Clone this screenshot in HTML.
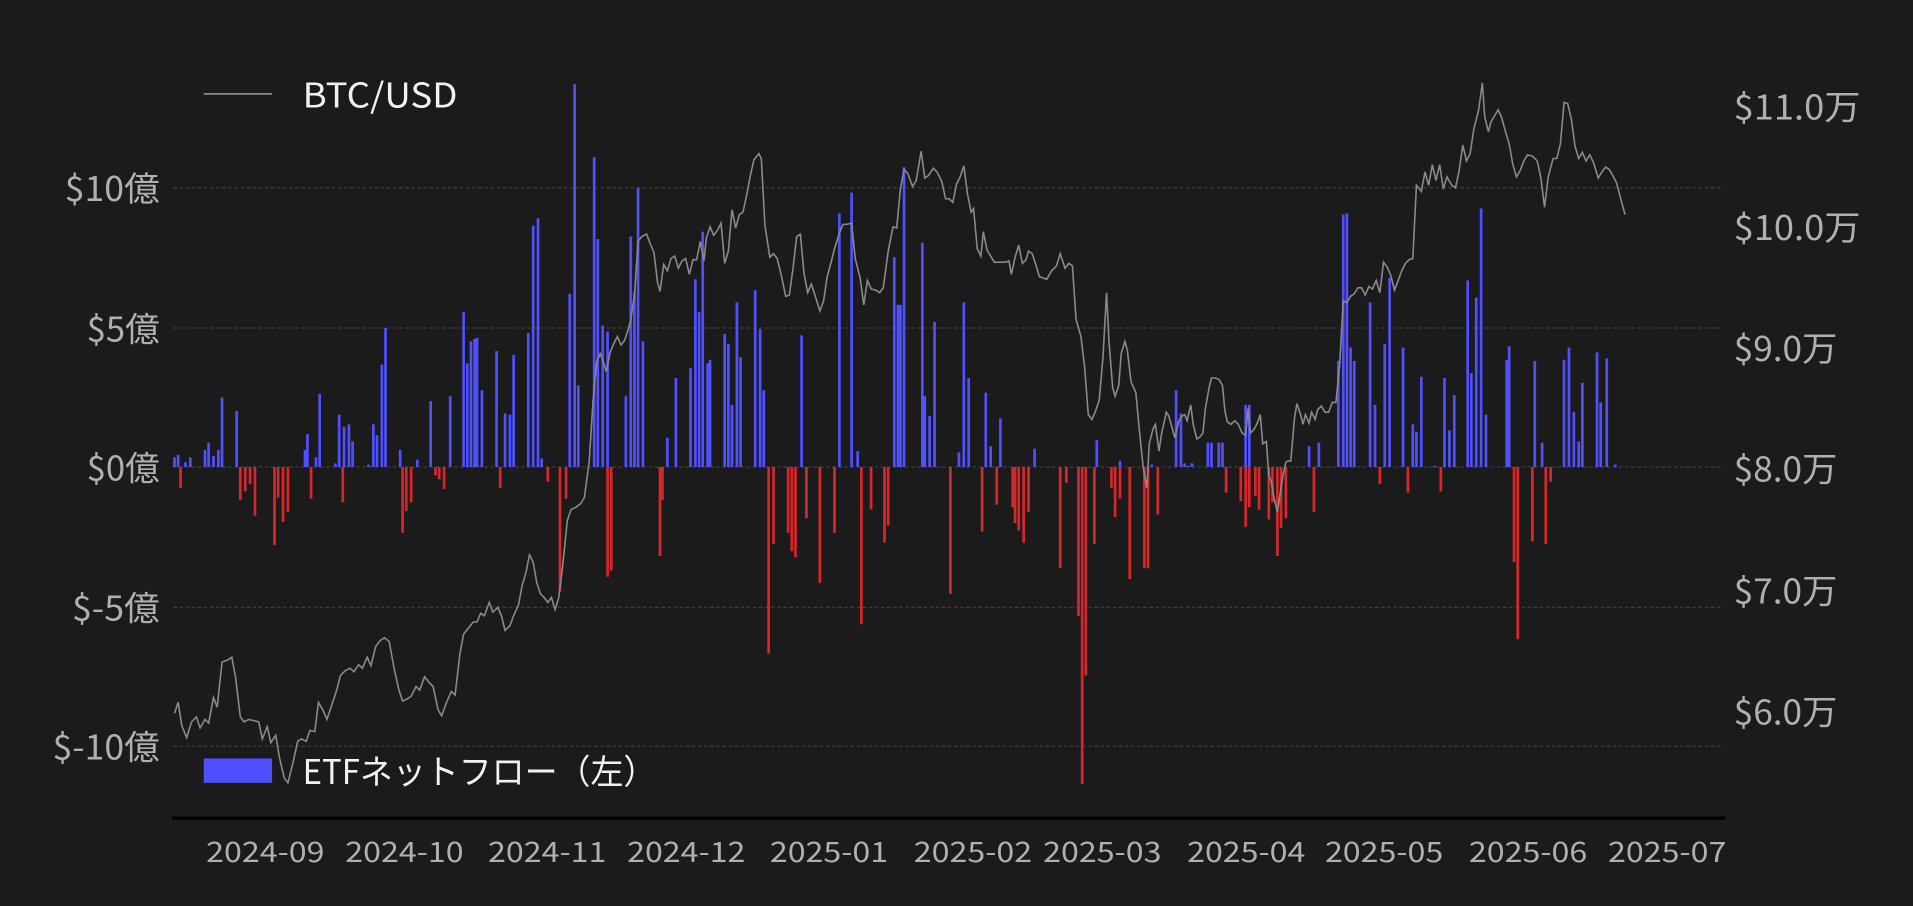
<!DOCTYPE html>
<html><head><meta charset="utf-8">
<style>
html,body{margin:0;padding:0;background:#1b1b1b;width:1913px;height:906px;overflow:hidden}
svg{display:block}
text{font-family:"Noto Sans CJK JP","Liberation Sans",sans-serif}
</style></head>
<body>
<svg id="s" width="1913" height="906" viewBox="0 0 1568 743" preserveAspectRatio="none" xmlns="http://www.w3.org/2000/svg">
<rect width="1568" height="743" fill="#1b1b1b"/>
<g stroke="#464646" stroke-width="0.8" stroke-dasharray="3,2">
<line x1="142" x2="1413" y1="154" y2="154"/>
<line x1="142" x2="1413" y1="269" y2="269"/>
<line x1="142" x2="1413" y1="383" y2="383"/>
<line x1="142" x2="1413" y1="498" y2="498"/>
<line x1="142" x2="1413" y1="612" y2="612"/>
</g>
<g id="bars"></g>
<polyline id="btc" fill="none" stroke="#8a8a8a" stroke-width="1.3" points=""/>
<line x1="141" x2="1414" y1="671" y2="671" stroke="#000" stroke-width="2.5"/>
<g fill="#b0b0b0" font-size="28" lengthAdjust="spacingAndGlyphs">
<text x="53" y="165" textLength="78" lengthAdjust="spacingAndGlyphs">$10億</text>
<text x="71" y="280" textLength="60" lengthAdjust="spacingAndGlyphs">$5億</text>
<text x="71" y="394" textLength="60" lengthAdjust="spacingAndGlyphs">$0億</text>
<text x="59" y="509" textLength="72" lengthAdjust="spacingAndGlyphs">$-5億</text>
<text x="43" y="623" textLength="88" lengthAdjust="spacingAndGlyphs">$-10億</text>
</g>
<g fill="#b0b0b0" font-size="28">
<text x="1421" y="98" textLength="104" lengthAdjust="spacingAndGlyphs">$11.0万</text>
<text x="1421" y="197" textLength="104" lengthAdjust="spacingAndGlyphs">$10.0万</text>
<text x="1421" y="296" textLength="85" lengthAdjust="spacingAndGlyphs">$9.0万</text>
<text x="1421" y="395" textLength="85" lengthAdjust="spacingAndGlyphs">$8.0万</text>
<text x="1421" y="495" textLength="85" lengthAdjust="spacingAndGlyphs">$7.0万</text>
<text x="1421" y="594" textLength="85" lengthAdjust="spacingAndGlyphs">$6.0万</text>
</g>
<g fill="#b0b0b0" font-size="23">
<text x="169" y="707" textLength="97" lengthAdjust="spacingAndGlyphs">2024-09</text>
<text x="283" y="707" textLength="97" lengthAdjust="spacingAndGlyphs">2024-10</text>
<text x="400" y="707" textLength="97" lengthAdjust="spacingAndGlyphs">2024-11</text>
<text x="514" y="707" textLength="97" lengthAdjust="spacingAndGlyphs">2024-12</text>
<text x="631" y="707" textLength="97" lengthAdjust="spacingAndGlyphs">2025-01</text>
<text x="749" y="707" textLength="97" lengthAdjust="spacingAndGlyphs">2025-02</text>
<text x="855" y="707" textLength="97" lengthAdjust="spacingAndGlyphs">2025-03</text>
<text x="973" y="707" textLength="97" lengthAdjust="spacingAndGlyphs">2025-04</text>
<text x="1086" y="707" textLength="97" lengthAdjust="spacingAndGlyphs">2025-05</text>
<text x="1204" y="707" textLength="97" lengthAdjust="spacingAndGlyphs">2025-06</text>
<text x="1318" y="707" textLength="97" lengthAdjust="spacingAndGlyphs">2025-07</text>
</g>
<line x1="167" x2="223" y1="77" y2="77" stroke="#8a8a8a" stroke-width="1.5"/>
<text x="248" y="88" fill="#f2f2f2" font-size="28" textLength="127" lengthAdjust="spacingAndGlyphs">BTC/USD</text>
<rect x="167" y="622" width="56" height="20" fill="#4f4fff"/>
<text x="248" y="643" fill="#f2f2f2" font-size="28" textLength="290" lengthAdjust="spacingAndGlyphs">ETFネットフロー（左）</text>
</svg>
<script>
var pts="143,585 146,576 149,595 153,605 157,592 161,588 164,597 168,590 171,593 175,572 178,580 182,543 187,541 190,539 193,555 197,588 200,592 204,590 208,591 212,592 215,606 219,596 222,609 226,603 229,621 233,638 236,642 240,626 244,608 247,606 251,608 254,599 258,600 261,576 265,583 268,590 272,578 276,566 279,554 283,550 287,548 290,551 294,545 297,548 301,539 304,546 308,530 312,525 315,523 319,526 323,548 327,566 330,575 334,573 337,571 341,563 344,566 348,555 352,560 355,563 359,582 362,587 366,576 370,567 373,570 377,536 380,520 384,515 388,510 391,510 394,503 397,505 401,494 404,502 408,498 411,505 414,517 418,513 421,505 425,496 428,480 431,470 434,455 437,461 440,478 443,487 446,490 449,494 452,490 455,500 458,490 461,466 465,427 468,418 472,416 476,413 479,408 483,378 486,330 489,297 492,290 495,298 497,305 500,289 503,282 506,276 509,283 512,279 515,270 517,262 520,243 523,198 526,194 530,192 533,200 536,207 539,232 541,239 544,217 547,222 550,212 553,210 556,220 559,214 562,212 565,225 568,213 571,213 574,198 577,214 579,195 582,186 585,193 588,189 591,183 594,216 597,206 600,172 603,187 606,176 609,174 612,160 615,144 618,131 622,126 624,130 627,185 631,211 634,208 637,212 640,224 644,243 647,242 650,220 653,194 656,192 659,224 662,240 665,233 668,242 672,255 675,247 678,227 681,216 684,204 688,191 691,184 694,184 698,183 701,212 705,228 708,250 711,230 714,237 718,238 721,240 724,236 728,206 732,186 735,187 738,155 741,139 744,142 748,153 751,148 755,124 758,146 761,144 765,138 768,141 772,149 775,163 778,163 781,166 784,151 787,145 790,136 793,159 796,174 798,171 801,204 804,210 806,190 809,205 812,210 815,215 819,215 824,215 827,214 829,225 832,211 835,201 838,216 841,213 843,206 846,208 849,217 852,227 855,228 858,229 862,222 866,218 869,208 873,220 876,216 879,218 882,262 886,276 889,301 892,340 895,344 898,337 901,328 904,294 907,240 909,280 912,318 914,325 917,316 919,290 922,280 924,287 927,313 931,322 934,354 937,383 940,400 942,364 945,352 947,348 950,370 952,356 956,338 958,341 961,352 963,359 966,346 968,342 971,340 973,345 976,332 978,348 981,360 984,358 986,355 988,335 991,318 993,310 996,310 999,311 1002,316 1004,337 1006,346 1009,348 1012,345 1015,348 1018,355 1021,357 1023,335 1025,355 1028,352 1031,346 1033,340 1035,364 1038,362 1040,390 1042,395 1044,407 1047,420 1050,400 1052,388 1054,379 1056,378 1058,378 1061,343 1063,331 1066,340 1068,348 1070,340 1073,347 1075,338 1078,344 1080,336 1083,333 1086,338 1089,338 1092,330 1095,330 1098,300 1101,247 1104,248 1107,243 1110,241 1113,236 1116,236 1119,242 1122,235 1125,237 1128,230 1131,240 1134,215 1137,219 1140,226 1143,238 1146,230 1149,222 1152,216 1155,213 1158,212 1161,152 1165,157 1168,141 1171,152 1174,135 1177,148 1180,135 1183,155 1186,145 1190,152 1193,154 1196,140 1199,119 1202,132 1205,126 1208,106 1212,90 1215,68 1217,96 1220,108 1222,100 1225,95 1228,90 1231,97 1234,108 1237,118 1240,135 1243,145 1246,140 1249,132 1252,127 1256,128 1260,132 1263,146 1266,170 1269,145 1273,130 1276,130 1279,118 1282,84 1285,85 1288,98 1291,120 1294,130 1297,125 1300,132 1303,127 1306,133 1310,146 1313,141 1316,137 1319,139 1322,144 1325,150 1329,165 1332,176";
document.getElementById('btc').setAttribute('points',pts);
var pos="143,375;146,373;152,379;156,375;168,369;171,363;175,374;179,369;182,326;194,337;250,369;252,356;259,375;262,323;275,380;278,340;282,350;286,348;289,362;302,381;306,348;309,357;313,299;316,269;328,369;342,377;353,329;369,325;380,256;383,298;386,280;389,278;391,277;395,320;407,288;414,339;418,340;421,291;433,273;437,185;441,179;444,376;467,241;471,69;474,316;487,129;490,196;494,267;498,272;513,325;517,194;520,240;523,154;527,280;547,359;554,310;566,302;570,229;573,256;576,190;580,298;582,295;594,274;597,282;600,332;604,248;607,293;619,238;623,270;626,320;657,275;675,383;680,383;688,175;698,158;703,370;733,211;736,250;738,250;741,137;756,199;758,325;762,341;766,264;786,371;790,248;794,310;808,322;812,366;820,343;848,368;899,361;918,378;944,381;964,320;968,339;971,380;974,382;977,380;990,363;993,363;999,363;1002,363;1021,332;1024,332;1073,366;1081,363;1097,296;1101,176;1104,175;1107,285;1110,296;1123,248;1127,332;1135,282;1139,228;1150,285;1158,348;1161,354;1165,309;1176,382;1184,310;1188,353;1192,324;1203,230;1206,306;1210,244;1214,171;1218,340;1235,295;1237,284;1258,296;1264,363;1282,295;1286,285;1290,338;1294,362;1297,314;1309,289;1312,330;1317,294;1324,381";
var neg="148,400;197,410;201,403;205,397;209,423;225,447;228,408;232,428;236,420;255,409;281,412;330,437;333,419;337,412;357,390;360,393;364,401;410,400;449,395;459,485;464,409;498,473;501,468;541,456;543,410;630,536;634,446;646,437;649,452;652,457;661,425;672,478;684,437;706,512;714,418;725,445;728,431;779,487;805,436;817,414;830,416;832,429;835,435;839,445;843,420;869,466;874,396;884,505;887,643;890,554;897,446;911,400;914,424;918,409;926,475;938,466;941,466;949,422;1005,404;1017,411;1021,432;1024,416;1029,407;1032,418;1040,426;1043,412;1047,456;1050,433;1054,425;1077,420;1131,397;1154,404;1181,403;1241,461;1244,524;1256,444;1267,446;1271,395";
var g=document.getElementById('bars'),h='';
pos.split(';').forEach(function(p){var a=p.split(',');var x=+a[0],y=+a[1];h+='<rect x="'+(x-1.1)+'" y="'+y+'" width="2.2" height="'+(383-y)+'" fill="#5050ff"/>';});
neg.split(';').forEach(function(p){var a=p.split(',');var x=+a[0],y=+a[1];h+='<rect x="'+(x-1.1)+'" y="383" width="2.2" height="'+(y-383)+'" fill="#d8262b"/>';});
g.innerHTML=h;
</script>
</body></html>
